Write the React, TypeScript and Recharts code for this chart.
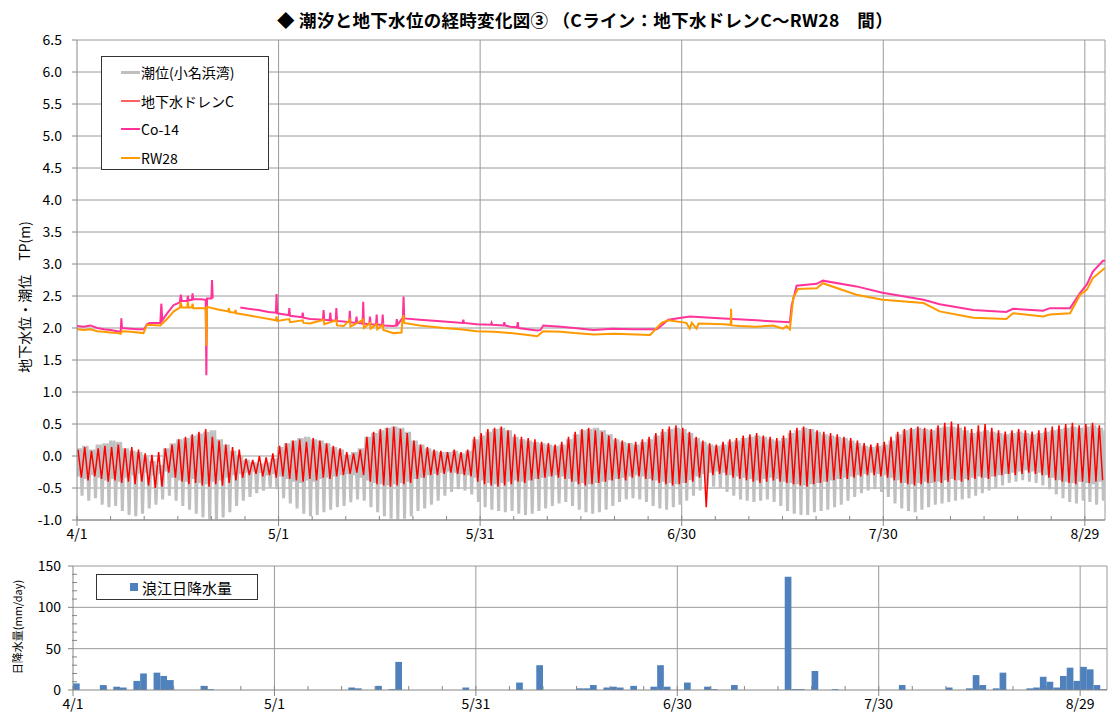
import React from "react";
import { LineChart, Line, XAxis, YAxis, CartesianGrid, BarChart, Bar } from "recharts";

const FONT = "'Noto Sans CJK JP', 'Noto Sans', sans-serif";

// day 0 = 4/1
const dateLabels: Record<number, string> = { 0: "4/1", 30: "5/1", 60: "5/31", 90: "6/30", 120: "7/30", 150: "8/29" };
const dayTicks = [0, 5, 10, 15, 20, 25, 30, 35, 40, 45, 50, 55, 60, 65, 70, 75, 80, 85, 90, 95, 100, 105, 110, 115, 120, 125, 130, 135, 140, 145, 150];
const levelTicks = [-1.0, -0.5, 0.0, 0.5, 1.0, 1.5, 2.0, 2.5, 3.0, 3.5, 4.0, 4.5, 5.0, 5.5, 6.0, 6.5];
const rainTicks = [0, 10, 20, 30, 40, 50, 60, 70, 80, 90, 100, 110, 120, 130, 140, 150];

// tide (小名浜湾): daily high, shallow low, deep low
const tideHigh = [
  0.12, 0.16, 0.10, 0.18, 0.20, 0.24, 0.22, 0.12, 0.08, 0.06,
  -0.02, -0.08, -0.14, 0.12, 0.20, 0.26, 0.28, 0.32, 0.35, 0.38,
  0.40, 0.26, 0.18, 0.08, 0.00, -0.06, -0.10, -0.12, -0.10, -0.04,
  0.14, 0.20, 0.24, 0.28, 0.30, 0.26, 0.24, 0.20, 0.14, 0.10,
  0.02, 0.06, 0.12, 0.30, 0.36, 0.40, 0.44, 0.46, 0.44, 0.38,
  0.24, 0.18, 0.12, 0.08, 0.06, 0.06, 0.08, 0.04, 0.08, 0.26,
  0.32, 0.38, 0.42, 0.44, 0.40, 0.30, 0.26, 0.24, 0.22, 0.20,
  0.18, 0.16, 0.18, 0.26, 0.34, 0.40, 0.42, 0.44, 0.40, 0.34,
  0.26, 0.22, 0.20, 0.18, 0.22, 0.26, 0.32, 0.38, 0.42, 0.44,
  0.42, 0.36, 0.28, 0.22, 0.18, 0.16, 0.18, 0.22, 0.24, 0.28,
  0.30, 0.32, 0.30, 0.26, 0.24, 0.28, 0.36, 0.40, 0.44, 0.42,
  0.38, 0.34, 0.32, 0.30, 0.28, 0.24, 0.20, 0.16, 0.14, 0.16,
  0.18, 0.24, 0.34, 0.40, 0.42, 0.44, 0.42, 0.40, 0.44, 0.46,
  0.46, 0.44, 0.40, 0.36, 0.38, 0.40, 0.38, 0.36, 0.34, 0.36,
  0.38, 0.36, 0.34, 0.36, 0.38, 0.40, 0.42, 0.44, 0.46, 0.44,
  0.46, 0.48, 0.44, 0.40,
];
const tideMid = [
  -0.32, -0.36, -0.30, -0.34, -0.38, -0.36, -0.40, -0.34, -0.30, -0.28,
  -0.26, -0.30, -0.28, -0.24, -0.34, -0.38, -0.40, -0.36, -0.42, -0.44,
  -0.40, -0.38, -0.34, -0.30, -0.28, -0.26, -0.24, -0.26, -0.30, -0.28,
  -0.32, -0.36, -0.40, -0.42, -0.38, -0.40, -0.36, -0.34, -0.32, -0.30,
  -0.28, -0.30, -0.34, -0.38, -0.42, -0.44, -0.46, -0.44, -0.42, -0.40,
  -0.36, -0.34, -0.30, -0.28, -0.26, -0.24, -0.26, -0.28, -0.30, -0.34,
  -0.38, -0.42, -0.44, -0.42, -0.40, -0.38, -0.40, -0.38, -0.36, -0.34,
  -0.32, -0.30, -0.32, -0.36, -0.40, -0.42, -0.44, -0.42, -0.40, -0.38,
  -0.36, -0.34, -0.32, -0.30, -0.32, -0.36, -0.38, -0.40, -0.42, -0.44,
  -0.42, -0.38, -0.32, -0.28, -0.26, -0.24, -0.26, -0.30, -0.32, -0.34,
  -0.36, -0.38, -0.36, -0.34, -0.36, -0.40, -0.42, -0.44, -0.46, -0.44,
  -0.42, -0.40, -0.38, -0.36, -0.34, -0.32, -0.30, -0.28, -0.26, -0.28,
  -0.30, -0.34, -0.38, -0.42, -0.44, -0.42, -0.40, -0.42, -0.40, -0.38,
  -0.36, -0.38, -0.36, -0.34, -0.32, -0.34, -0.32, -0.30, -0.28, -0.26,
  -0.24, -0.22, -0.24, -0.26, -0.30, -0.34, -0.38, -0.40, -0.42, -0.40,
  -0.42, -0.44, -0.40, -0.38,
];
const tideLow = [
  -0.62, -0.70, -0.66, -0.76, -0.80, -0.78, -0.86, -0.92, -0.94, -0.90,
  -0.82, -0.76, -0.68, -0.62, -0.70, -0.78, -0.84, -0.90, -0.96, -1.00,
  -1.00, -0.96, -0.88, -0.78, -0.70, -0.64, -0.58, -0.54, -0.50, -0.52,
  -0.66, -0.74, -0.82, -0.90, -0.94, -0.92, -0.88, -0.84, -0.80, -0.78,
  -0.72, -0.68, -0.70, -0.80, -0.88, -0.94, -0.98, -1.00, -0.98, -0.94,
  -0.86, -0.82, -0.76, -0.70, -0.62, -0.56, -0.52, -0.54, -0.60, -0.72,
  -0.80, -0.84, -0.86, -0.88, -0.86, -0.90, -0.92, -0.90, -0.86, -0.82,
  -0.78, -0.74, -0.72, -0.78, -0.84, -0.88, -0.90, -0.88, -0.84, -0.78,
  -0.72, -0.68, -0.66, -0.68, -0.72, -0.78, -0.82, -0.84, -0.80, -0.76,
  -0.70, -0.62, -0.54, -0.50, -0.48, -0.50, -0.56, -0.62, -0.68, -0.70,
  -0.72, -0.70, -0.68, -0.72, -0.78, -0.86, -0.90, -0.92, -0.92, -0.88,
  -0.86, -0.84, -0.80, -0.76, -0.70, -0.64, -0.58, -0.54, -0.52, -0.56,
  -0.64, -0.74, -0.82, -0.86, -0.88, -0.84, -0.80, -0.76, -0.74, -0.72,
  -0.70, -0.68, -0.66, -0.62, -0.58, -0.54, -0.50, -0.46, -0.42, -0.40,
  -0.38, -0.40, -0.42, -0.46, -0.52, -0.60, -0.66, -0.72, -0.74, -0.70,
  -0.72, -0.76, -0.70, -0.66,
];

// 地下水ドレンC: daily high / low
const drainHigh = [
  0.10, 0.14, 0.08, 0.12, 0.16, 0.14, 0.18, 0.12, 0.14, 0.10,
  0.04, 0.02, 0.06, 0.12, 0.18, 0.26, 0.30, 0.34, 0.38, 0.42,
  0.30, 0.24, 0.18, 0.14, 0.10, -0.04, -0.06, 0.00, -0.02, 0.04,
  0.16, 0.20, 0.24, 0.26, 0.22, 0.28, 0.24, 0.20, 0.16, 0.12,
  0.06, 0.04, 0.10, 0.30, 0.38, 0.42, 0.44, 0.46, 0.42, 0.36,
  0.24, 0.18, 0.14, 0.10, 0.08, 0.06, 0.10, 0.06, 0.10, 0.30,
  0.36, 0.42, 0.44, 0.46, 0.40, 0.34, 0.30, 0.28, 0.26, 0.22,
  0.20, 0.18, 0.22, 0.30, 0.38, 0.42, 0.44, 0.40, 0.38, 0.32,
  0.28, 0.24, 0.20, 0.22, 0.26, 0.30, 0.36, 0.42, 0.46, 0.48,
  0.44, 0.38, 0.30, 0.24, 0.20, 0.18, 0.22, 0.26, 0.28, 0.32,
  0.34, 0.36, 0.32, 0.30, 0.28, 0.32, 0.40, 0.44, 0.46, 0.42,
  0.40, 0.38, 0.36, 0.34, 0.30, 0.28, 0.24, 0.20, 0.18, 0.20,
  0.22, 0.30, 0.38, 0.42, 0.44, 0.46, 0.44, 0.42, 0.48, 0.52,
  0.54, 0.50, 0.46, 0.42, 0.48, 0.50, 0.44, 0.40, 0.38, 0.40,
  0.42, 0.40, 0.38, 0.40, 0.44, 0.46, 0.48, 0.50, 0.52, 0.48,
  0.50, 0.52, 0.48, 0.44,
];
const drainLow = [
  -0.34, -0.38, -0.32, -0.36, -0.40, -0.38, -0.42, -0.40, -0.44, -0.40,
  -0.46, -0.50, -0.48, -0.26, -0.34, -0.40, -0.44, -0.42, -0.46, -0.48,
  -0.44, -0.46, -0.42, -0.38, -0.34, -0.30, -0.28, -0.32, -0.30, -0.34,
  -0.32, -0.36, -0.38, -0.40, -0.36, -0.38, -0.34, -0.36, -0.32, -0.30,
  -0.28, -0.26, -0.30, -0.40, -0.44, -0.46, -0.48, -0.46, -0.44, -0.42,
  -0.36, -0.34, -0.30, -0.30, -0.28, -0.26, -0.28, -0.30, -0.32, -0.40,
  -0.44, -0.46, -0.48, -0.46, -0.44, -0.40, -0.42, -0.38, -0.36, -0.34,
  -0.32, -0.34, -0.36, -0.40, -0.44, -0.46, -0.44, -0.42, -0.40, -0.38,
  -0.36, -0.38, -0.34, -0.32, -0.36, -0.38, -0.42, -0.44, -0.46, -0.44,
  -0.42, -0.40, -0.34, -0.80, -0.30, -0.28, -0.30, -0.34, -0.36, -0.38,
  -0.40, -0.42, -0.40, -0.38, -0.40, -0.42, -0.44, -0.46, -0.48, -0.44,
  -0.42, -0.40, -0.38, -0.36, -0.36, -0.34, -0.32, -0.30, -0.30, -0.32,
  -0.34, -0.38, -0.42, -0.44, -0.46, -0.44, -0.42, -0.40, -0.42, -0.40,
  -0.38, -0.40, -0.38, -0.36, -0.34, -0.36, -0.32, -0.30, -0.28, -0.30,
  -0.28, -0.26, -0.28, -0.30, -0.34, -0.38, -0.40, -0.42, -0.44, -0.40,
  -0.42, -0.40, -0.38, -0.36,
];

// Co-14 [day, TP m]
const co14: [number, number | null][] = [
  [0, 2.03], [1, 2.02], [2, 2.04], [3, 2.0], [4, 1.98], [5, 1.97], [6, 1.95], [6.5, 1.94], [6.6, 2.15], [6.7, 2.0],
  [8, 1.99], [9, 1.98], [10, 1.98], [10.4, 2.06], [10.8, 2.08], [12.4, 2.08], [12.55, 2.38], [12.7, 2.12], [13.5, 2.24],
  [14.4, 2.36], [15.3, 2.4], [15.45, 2.52], [15.6, 2.42], [16.4, 2.42], [16.5, 2.5], [16.6, 2.43], [17.1, 2.44],
  [17.2, 2.54], [17.3, 2.45], [18.5, 2.45], [19.15, 2.44], [19.25, 1.26], [19.35, 2.46], [20.0, 2.46], [20.1, 2.75],
  [20.2, 2.46], [20.3, null], [24.3, 2.32], [25.5, 2.3], [27, 2.28], [28.5, 2.25], [29.6, 2.24], [29.7, 2.53], [29.8, 2.23],
  [31.5, 2.2], [31.6, 2.31], [31.7, 2.19], [33.5, 2.17], [33.6, 2.24], [33.7, 2.16], [34.7, 2.14], [36.6, 2.13],
  [36.7, 2.28], [36.8, 2.13], [37.6, 2.12], [37.7, 2.24], [37.8, 2.12], [38.5, 2.11], [38.6, 2.31], [38.7, 2.11],
  [39.7, 2.1], [40.5, 2.09], [40.6, 2.27], [40.7, 2.09], [41.5, 2.08], [41.6, 2.18], [41.7, 2.08], [42.5, 2.07],
  [42.6, 2.41], [42.7, 2.07], [43.5, 2.06], [43.6, 2.18], [43.7, 2.06], [44.5, 2.05], [44.6, 2.21], [44.7, 2.05],
  [45.4, 2.05], [45.5, 2.21], [45.6, 2.04], [47.1, 2.03], [47.5, 2.04], [47.6, 2.14], [47.7, 2.05], [48.4, 2.15],
  [48.5, 2.16], [48.6, 2.49], [48.7, 2.15], [51, 2.13], [54.6, 2.1], [57.4, 2.08], [57.5, 2.13], [57.6, 2.08],
  [59.5, 2.06], [61.6, 2.05], [61.7, 2.08], [61.8, 2.05], [63.5, 2.04], [63.6, 2.09], [63.7, 2.04], [64.5, 2.02],
  [65.5, 2.01], [65.6, 2.09], [65.7, 2.0], [68.5, 1.96], [69.0, 1.97], [69.4, 2.04], [72, 2.02], [74, 2.0], [76.9, 1.97],
  [79.6, 1.99], [82.8, 1.98], [86.3, 1.98], [87, 2.04], [88, 2.13], [91.2, 2.18], [96.2, 2.15], [101.1, 2.12],
  [106.1, 2.09], [106.35, 2.34], [107.1, 2.66], [110.1, 2.69], [111, 2.74], [116, 2.65], [119.9, 2.55], [126, 2.44],
  [128.4, 2.37], [133.4, 2.28], [138.3, 2.25], [139.3, 2.3], [143.8, 2.27], [144.8, 2.31], [147.8, 2.31], [149.3, 2.55],
  [150.3, 2.68], [151.2, 2.88], [152.7, 3.05], [153, 3.05],
];

// RW28 [day, TP m]
const rw28: [number, number][] = [
  [0, 1.98], [1, 1.97], [2, 1.98], [3, 1.95], [4, 1.94], [5, 1.93], [6, 1.92], [6.5, 1.91], [6.7, 1.95], [8, 1.94],
  [9.9, 1.92], [10.4, 2.05], [12.4, 2.04], [13.4, 2.14], [14.4, 2.26], [15.3, 2.32], [15.45, 2.4], [15.6, 2.32],
  [16.4, 2.32], [16.5, 2.41], [16.6, 2.32], [17.1, 2.32], [17.2, 2.38], [17.3, 2.31], [19.15, 2.31], [19.25, 1.72],
  [19.35, 2.33], [21, 2.29], [22.5, 2.26], [22.6, 2.31], [22.7, 2.25], [23.5, 2.24], [23.6, 2.28], [23.7, 2.23],
  [24.8, 2.21], [27, 2.17], [29.6, 2.12], [29.7, 2.18], [29.8, 2.11], [31.6, 2.14], [31.7, 2.09], [33.6, 2.12],
  [33.7, 2.08], [34.7, 2.07], [36.7, 2.13], [36.8, 2.06], [38.6, 2.12], [38.7, 2.04], [39.7, 2.03], [40.6, 2.13],
  [40.7, 2.02], [42.6, 2.13], [42.7, 2.0], [43.6, 2.08], [43.7, 1.99], [44.6, 2.06], [44.7, 1.98], [45.5, 2.05],
  [45.6, 1.97], [47.1, 1.92], [48.3, 1.93], [48.4, 2.09], [48.6, 2.2], [48.7, 2.08], [51, 2.04], [54.6, 2.0], [57, 1.98],
  [59.5, 1.95], [62, 1.94], [64.5, 1.92], [66.5, 1.9], [68.5, 1.87], [69.4, 1.95], [72, 1.94], [74, 1.92], [76.9, 1.9],
  [80, 1.91], [85.3, 1.89], [87, 2.08], [88, 2.12], [90.7, 2.08], [91.2, 1.99], [91.5, 2.08], [92.2, 1.99], [92.5, 2.07],
  [96.2, 2.06], [97.3, 2.05], [97.35, 2.3], [97.4, 2.04], [98.7, 2.03], [101.1, 2.02], [103.6, 2.04], [105.1, 1.99],
  [105.6, 2.03], [106.1, 1.98], [106.6, 2.47], [107.3, 2.61], [110.1, 2.62], [111, 2.7], [116, 2.52], [119.9, 2.44],
  [126, 2.39], [128.4, 2.26], [133.4, 2.16], [138.3, 2.14], [139.3, 2.23], [143.8, 2.18], [144.8, 2.21], [147.8, 2.23],
  [149.3, 2.52], [150.3, 2.6], [151.2, 2.78], [152.9, 2.93], [153, 2.93],
];

// 浪江日降水量 (mm/day)
const rainDays = [0, 4, 6, 7, 9, 10, 12, 13, 14, 19, 20, 41, 42, 45, 47, 48, 58, 66, 69, 75, 76, 77, 79, 80, 81, 83, 86, 87, 88, 91, 94, 95, 98, 106, 107, 108, 110, 113, 123, 130, 133, 134, 135, 137, 138, 142, 143, 144, 145, 146, 147, 148, 149, 150, 151, 152, 153];
const rainMm = [8, 6, 4, 3, 11, 20, 21, 17, 12, 5, 1, 3, 2, 5, 1, 34, 3, 9, 30, 2, 2, 6, 3, 4, 3, 5, 4, 30, 4, 9, 4, 1, 6, 137, 1, 1, 23, 1, 6, 3, 2, 18, 6, 2, 21, 2, 3, 16, 10, 3, 17, 27, 11, 28, 25, 6, 1];

const TOP_END = 153;
const BOT_END = 154;

const tideData: { t: number; v: number }[] = [];
tideHigh.forEach((h, d) => {
  [[d, h], [d + 0.25, tideMid[d]], [d + 0.5, h], [d + 0.75, tideLow[d]]].forEach(([t, v]) => {
    if (t <= TOP_END) tideData.push({ t, v });
  });
});
const drainData: { t: number; v: number }[] = [];
drainHigh.forEach((h, d) => {
  if (d + 0.15 <= TOP_END) drainData.push({ t: d + 0.15, v: h });
  if (d + 0.65 <= TOP_END) drainData.push({ t: d + 0.65, v: drainLow[d] });
});
const co14Data = co14.map(([t, v]) => ({ t, v }));
const rw28Data = rw28.map(([t, v]) => ({ t, v }));

const rainData = Array.from({ length: BOT_END }, (_, d) => {
  const i = rainDays.indexOf(d);
  return { t: d + 0.5, mm: i >= 0 ? rainMm[i] : 0 };
});

const AXIS = "#868686";
const GRID = "#9a9a9a";

function DayTick(props: any) {
  const { x, y, payload } = props;
  const major = payload.value % 30 === 0;
  return (
    <g>
      <line x1={x} x2={x} y1={y - 4} y2={major ? y + 6 : y} stroke={AXIS} />
      {major && (
        <text x={x} y={y + 9} dy="0.71em" textAnchor="middle" fontSize={14} fontFamily={FONT} fill="#000">
          {dateLabels[payload.value]}
        </text>
      )}
    </g>
  );
}

function RainTick(props: any) {
  const { x, y, payload } = props;
  const major = payload.value % 50 === 0;
  return (
    <g>
      {major ? (
        <line x1={x - 5} x2={x} y1={y} y2={y} stroke={AXIS} />
      ) : (
        <line x1={x - 1} x2={x + 4} y1={y} y2={y} stroke={AXIS} />
      )}
      {major && (
        <text x={x - 12} y={y} dy="0.35em" textAnchor="end" fontSize={14} fontFamily={FONT} fill="#000">
          {payload.value}
        </text>
      )}
    </g>
  );
}

const legendItems = [
  { name: "潮位(小名浜湾)", color: "#c0c0c0", w: 3 },
  { name: "地下水ドレンC", color: "#ff6060", w: 2 },
  { name: "Co-14", color: "#ff3399", w: 2 },
  { name: "RW28", color: "#ff9900", w: 2 },
];

export default function App() {
  return (
    <div style={{ position: "absolute", left: 0, top: 0, width: 1111, height: 722, background: "#fff", fontFamily: FONT }}>
      <div style={{ position: "absolute", left: 0, width: 1170, top: 7, textAlign: "center", fontSize: 17.5, fontWeight: "bold", whiteSpace: "nowrap", letterSpacing: 0.3 }}>
        ◆ 潮汐と地下水位の経時変化図③ （Cライン：地下水ドレンC～RW28　間）
      </div>

      <div style={{ position: "absolute", left: 0, top: 0 }}>
        <LineChart width={1111} height={545} margin={{ top: 40, right: 6, left: 0, bottom: 0 }}>
          <CartesianGrid stroke={GRID} horizontalValues={levelTicks} verticalValues={[30, 60, 90, 120, 150, TOP_END]} />
          <XAxis
            type="number"
            dataKey="t"
            domain={[0, TOP_END]}
            ticks={dayTicks}
            interval={0}
            allowDataOverflow
            height={25}
            stroke={AXIS}
            tickLine={false}
            tickSize={0}
            tickMargin={0}
            tick={<DayTick />}
          />
          <YAxis
            type="number"
            domain={[-1, 6.5]}
            ticks={levelTicks}
            interval={0}
            allowDataOverflow
            width={77}
            stroke={AXIS}
            tickSize={5}
            tickMargin={10}
            tick={{ fill: "#000", fontSize: 14, fontFamily: FONT }}
            tickFormatter={(v: number) => v.toFixed(1)}
          />
          <Line data={tideData} dataKey="v" name="潮位(小名浜湾)" stroke="#c0c0c0" strokeWidth={3} dot={false} isAnimationActive={false} />
          <Line data={drainData} dataKey="v" name="地下水ドレンC" stroke="#ff0000" strokeWidth={1.5} dot={false} isAnimationActive={false} />
          <Line data={co14Data} dataKey="v" name="Co-14" stroke="#ff3399" strokeWidth={2} dot={false} isAnimationActive={false} />
          <Line data={rw28Data} dataKey="v" name="RW28" stroke="#ff9900" strokeWidth={2} dot={false} isAnimationActive={false} />
        </LineChart>
      </div>

      <div style={{ position: "absolute", left: 24, top: 297, transform: "translate(-50%, -50%) rotate(-90deg)", fontSize: 14, whiteSpace: "nowrap" }}>
        地下水位・潮位　TP(m)
      </div>

      <div style={{ position: "absolute", left: 101, top: 56, width: 166, height: 112, border: "1px solid #333", background: "#fff" }}>
        {legendItems.map((it, i) => (
          <div key={it.name} style={{ position: "absolute", left: 19, top: 5 + i * 28.7, height: 20, display: "flex", alignItems: "center", fontSize: 14 }}>
            <span style={{ display: "inline-block", width: 19, height: it.w, background: it.color, marginRight: 1 }} />
            <span>{it.name}</span>
          </div>
        ))}
      </div>

      <div style={{ position: "absolute", left: 0, top: 550 }}>
        <BarChart width={1111} height={172} data={rainData} margin={{ top: 16, right: 4, left: 0, bottom: 0 }} barCategoryGap={0} barGap={0}>
          <CartesianGrid stroke={GRID} horizontalValues={[50, 100, 150]} verticalValues={[30, 60, 90, 120, 150, BOT_END]} />
          <XAxis
            type="number"
            dataKey="t"
            domain={[0, BOT_END]}
            ticks={dayTicks}
            interval={0}
            allowDataOverflow
            height={32}
            stroke={AXIS}
            tickLine={false}
            tickSize={0}
            tickMargin={0}
            tick={<DayTick />}
          />
          <YAxis
            type="number"
            domain={[0, 150]}
            ticks={rainTicks}
            interval={0}
            width={73}
            stroke={AXIS}
            tickLine={false}
            tickSize={0}
            tickMargin={0}
            tick={<RainTick />}
          />
          <Bar dataKey="mm" name="浪江日降水量" fill="#4f81bd" barSize={6.7} isAnimationActive={false} />
        </BarChart>
      </div>

      <div style={{ position: "absolute", left: 17, top: 627, transform: "translate(-50%, -50%) rotate(-90deg)", fontSize: 11, whiteSpace: "nowrap" }}>
        日降水量(mm/day)
      </div>

      <div style={{ position: "absolute", left: 96, top: 574, width: 160, height: 24, border: "1px solid #333", background: "#fff", display: "flex", alignItems: "center" }}>
        <span style={{ display: "inline-block", width: 8, height: 8, background: "#4f81bd", marginLeft: 33, marginRight: 4 }} />
        <span style={{ fontSize: 15 }}>浪江日降水量</span>
      </div>
    </div>
  );
}
